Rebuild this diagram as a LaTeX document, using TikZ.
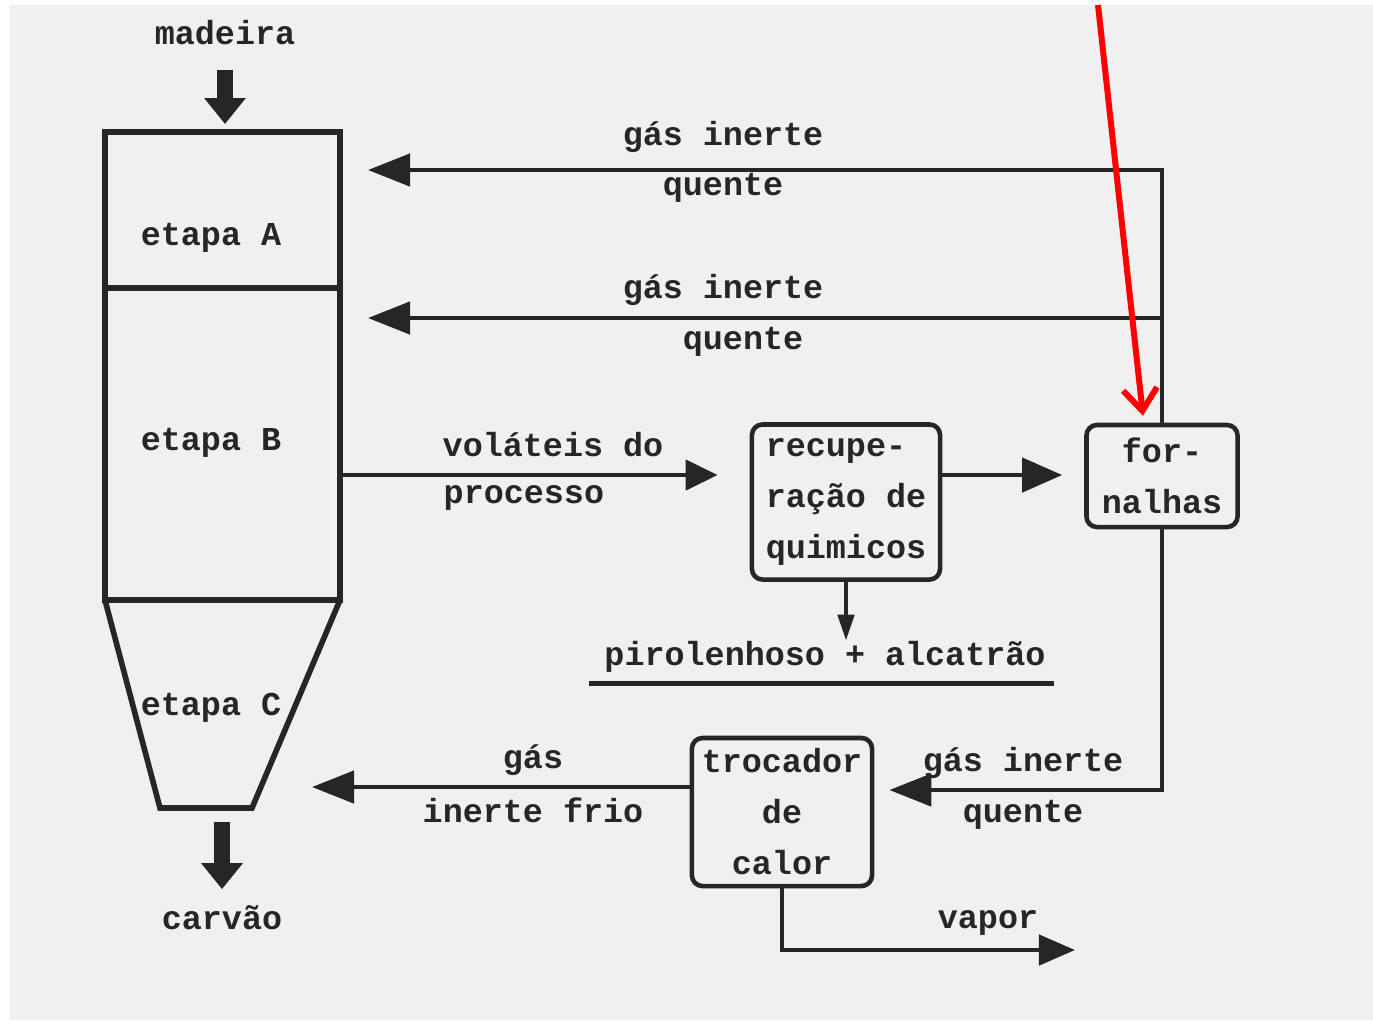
\documentclass[tikz,border=0pt]{standalone}
\usepackage{fontspec}
\newfontfamily\typewr{Liberation Mono}
\usetikzlibrary{calc}
\usetikzlibrary{arrows.meta}
\tikzset{>={Triangle[length=0.42cm,width=0.32cm]}}
\colorlet{ink}{black!85}
\colorlet{paper}{black!6}
\tikzstyle{flow}=[->,line width=1.3pt,ink]
\tikzstyle{wall}=[line width=1.6pt,ink,line join=miter]
\tikzstyle{fat}=[line width=0.15cm,ink,-{Triangle[length=0.26cm,width=0.40cm]}]
\tikzstyle{lbl}=[font=\typewr\bfseries\fontsize{9.5}{14.5}\selectfont,text=ink,inner sep=0pt]
\tikzstyle{unit}=[lbl,draw=ink,line width=1.3pt,rounded corners=3pt]

\begin{document}
\begin{tikzpicture}[x=0.01cm,y=-0.01cm]
  \useasboundingbox (0,0) rectangle (1373,1023);
  \fill[paper] (10,5) rectangle (1373,1020);

  % REACTOR
  \draw[wall] (105,132) rectangle (340,600);
  \draw[wall] (105,288) -- (340,288);
  \draw[wall] (105,600) -- (160,808) -- (252,808) -- (340,600);
  \node[lbl] (stageA) at (211,238) {etapa A};
  \node[lbl] (stageB) at (211,443) {etapa B};
  \node[lbl] (stageC) at (211,708) {etapa C};

  \node[lbl] (wood) at (225,33) {madeira};
  \node[lbl] (coal) at (222,918) {carvão};
  \draw[fat] ([yshift=-0.24cm]wood.south) -- ([yshift=-0.78cm]wood.south);
  \draw[fat] (coal.north |- 0,822) -- ([yshift=0.16cm]coal.north);

  \coordinate (inA) at (368,170); % upper hot gas
  \coordinate (inB) at (368,318); % lower hot gas
  \coordinate (outB) at (342,475); % volatiles
  \coordinate (inC) at (312,787); % cold gas
  \coordinate (hot) at (0,790);
  \coordinate (steam) at (1075,950);

  % UNITS
  \node[unit,minimum width=1.88cm,minimum height=1.55cm,align=left,
        inner xsep=0.13cm] (recup) at (846,502) {recupe-\\ração de\\quimicos};
  \node[unit,minimum width=1.51cm,minimum height=1.02cm,align=center]
    (furn) at (1162,476) {for-\\nalhas};
  \node[unit,minimum width=1.80cm,minimum height=1.48cm,align=center]
    (troc) at (782,812) {trocador\\de\\calor};
  \node[lbl] (tar) at (825,657) {pirolenhoso + alcatrão};
  \draw[line width=1.3pt,ink] ($(tar.south west)+(-15,10)$) -- ($(tar.south east)+(8,10)$);

  % FLOWS
  \draw[flow] (furn.north) |- (inA);
  \draw[flow] (furn.north |- inB) -- (inB);
  \draw[flow,shorten >=0.32cm,>={Triangle[length=0.32cm,width=0.30cm]}]
    (outB) -- (outB -| recup.west);
  \draw[flow,shorten >=0.22cm,>={Triangle[length=0.40cm,width=0.34cm]}]
    (recup.east |- outB) -- (furn.west |- outB);
  \draw[flow,>={Triangle[length=0.26cm,width=0.16cm]}]
    (recup.south) -- (recup.south |- tar.north);
  \draw[flow,shorten >=0.15cm] (furn.south) |- (troc.east |- hot);
  \draw[flow] (troc.west |- inC) -- (inC);
  \draw[flow,>={Triangle[length=0.36cm,width=0.30cm]}] (troc.south) |- (steam);

  % LABELS
  \node[lbl] (gasA) at (723,137) {gás inerte};
  \node[lbl] (hotA) at (723,188) {quente};
  \node[lbl] (gasB) at (723,290) {gás inerte};
  \node[lbl] (hotB) at (743,342) {quente};
  \node[lbl] (vol) at (553,445) {voláteis do};
  \node[lbl,anchor=west] (proc) at (443,498) {processo};
  \node[lbl] (gasH) at (1023,763) {gás inerte};
  \node[lbl] (hotH) at (1023,815) {quente};
  \node[lbl] (gasC) at (533,760) {gás};
  \node[lbl] (cold) at (533,810) {inerte frio};
  \node[lbl] (vap) at (988,923) {vapor};

  % POINTER
  \coordinate (mark) at (1098,5);
  \draw[red,line width=0.06cm,-{Straight Barb[length=0.22cm,width=0.34cm]}]
    (mark) -- ([xshift=-0.19cm,yshift=0.07cm]furn.north);
\end{tikzpicture}
\end{document}
